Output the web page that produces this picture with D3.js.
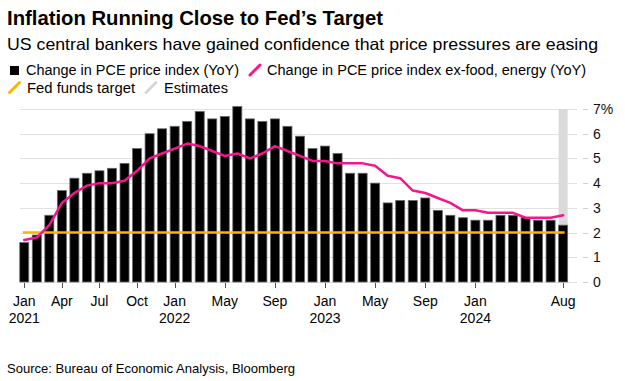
<!DOCTYPE html>
<html>
<head>
<meta charset="utf-8">
<script src="https://cdn.jsdelivr.net/npm/d3@7"></script>
<style>
  body { margin: 0; background: #fff; }
  svg { display: block; font-family: "Liberation Sans", Arial, Helvetica, sans-serif; }
</style>
</head>
<body>
<svg id="chart" width="625" height="381"></svg>
<script>
var months = [
  "2021-01","2021-02","2021-03","2021-04","2021-05","2021-06","2021-07","2021-08","2021-09","2021-10","2021-11","2021-12",
  "2022-01","2022-02","2022-03","2022-04","2022-05","2022-06","2022-07","2022-08","2022-09","2022-10","2022-11","2022-12",
  "2023-01","2023-02","2023-03","2023-04","2023-05","2023-06","2023-07","2023-08","2023-09","2023-10","2023-11","2023-12",
  "2024-01","2024-02","2024-03","2024-04","2024-05","2024-06","2024-07","2024-08"
];

// headline PCE, YoY %
var pce = [
  1.6, 1.9, 2.7, 3.7, 4.2, 4.4, 4.5, 4.6, 4.8, 5.4, 6.0, 6.2,
  6.3, 6.5, 6.9, 6.6, 6.7, 7.1, 6.6, 6.5, 6.6, 6.3, 5.9, 5.4,
  5.5, 5.2, 4.4, 4.4, 4.0, 3.2, 3.3, 3.3, 3.4, 2.9, 2.7, 2.6,
  2.5, 2.5, 2.7, 2.7, 2.6, 2.5, 2.5, 2.3
];

// core PCE (ex-food, energy), YoY %
var core = [
  1.7, 1.8, 2.3, 3.2, 3.6, 3.9, 4.0, 4.0, 4.1, 4.5, 5.0, 5.2,
  5.4, 5.6, 5.5, 5.3, 5.1, 5.2, 5.0, 5.2, 5.5, 5.3, 5.1, 4.9,
  4.9, 4.8, 4.8, 4.8, 4.7, 4.3, 4.2, 3.7, 3.6, 3.4, 3.2, 2.9,
  2.9, 2.8, 2.8, 2.8, 2.6, 2.6, 2.6, 2.7
];

var fedTarget = 2;
var estimateMonths = ["2024-08"];

var yTicks = [0, 1, 2, 3, 4, 5, 6, 7];
var tickMonths = ["2021-01","2021-04","2021-07","2021-10","2022-01","2022-05","2022-09","2023-01","2023-05","2023-09","2024-01","2024-08"];
var monthNames = ["Jan","Feb","Mar","Apr","May","Jun","Jul","Aug","Sep","Oct","Nov","Dec"];

var PINK = "#f5158c";
var YELLOW = "#ffb500";
var GRID = "#e2e2e2";

var svg = d3.select("#chart");

var x = d3.scaleBand()
  .domain(months)
  .range([18, 569.4])
  .paddingInner(0.28)
  .paddingOuter(0.14);

var y = d3.scaleLinear()
  .domain([0, 7])
  .range([282, 109]);

function cx(m) {
  return x(m) + x.bandwidth() / 2;
}

// titles
svg.append("text")
  .attr("x", 7).attr("y", 25)
  .attr("font-size", 21).attr("font-weight", "bold")
  .attr("textLength", 376).attr("lengthAdjust", "spacingAndGlyphs")
  .text("Inflation Running Close to Fed’s Target");

svg.append("text")
  .attr("x", 7).attr("y", 50)
  .attr("font-size", 16.5)
  .attr("textLength", 591).attr("lengthAdjust", "spacingAndGlyphs")
  .text("US central bankers have gained confidence that price pressures are easing");

// legend
var legend = svg.append("g").attr("font-size", 14);

legend.append("rect")
  .attr("x", 10).attr("y", 66).attr("width", 9).attr("height", 9)
  .attr("fill", "#000");
legend.append("text")
  .attr("x", 26).attr("y", 75)
  .attr("textLength", 213).attr("lengthAdjust", "spacingAndGlyphs")
  .text("Change in PCE price index (YoY)");

function slash(x0, yb, color) {
  legend.append("line")
    .attr("x1", x0).attr("y1", yb)
    .attr("x2", x0 + 10).attr("y2", yb - 10)
    .attr("stroke", color).attr("stroke-width", 3)
    .attr("stroke-linecap", "round");
}

slash(250, 75, PINK);
legend.append("text")
  .attr("x", 267).attr("y", 75)
  .attr("textLength", 319).attr("lengthAdjust", "spacingAndGlyphs")
  .text("Change in PCE price index ex-food, energy (YoY)");

slash(9.5, 92.5, YELLOW);
legend.append("text")
  .attr("x", 27).attr("y", 92.5)
  .attr("textLength", 108).attr("lengthAdjust", "spacingAndGlyphs")
  .text("Fed funds target");

slash(146, 92.5, "#d6d6d6");
legend.append("text")
  .attr("x", 164).attr("y", 92.5)
  .attr("textLength", 64).attr("lengthAdjust", "spacingAndGlyphs")
  .text("Estimates");

// gridlines and right axis
var grid = svg.append("g");
grid.selectAll("line.grid")
  .data(yTicks)
  .enter()
  .append("line")
  .attr("class", "grid")
  .attr("x1", 20).attr("x2", 577)
  .attr("y1", function(d) { return Math.round(y(d)) + 0.5; })
  .attr("y2", function(d) { return Math.round(y(d)) + 0.5; })
  .attr("stroke", GRID).attr("stroke-width", 1);

grid.selectAll("line.ytick")
  .data(yTicks)
  .enter()
  .append("line")
  .attr("class", "ytick")
  .attr("x1", 583).attr("x2", 588)
  .attr("y1", function(d) { return Math.round(y(d)) + 0.5; })
  .attr("y2", function(d) { return Math.round(y(d)) + 0.5; })
  .attr("stroke", "#cfcfcf");

grid.selectAll("text")
  .data(yTicks)
  .enter()
  .append("text")
  .attr("x", 593)
  .attr("y", function(d) { return y(d) + 5; })
  .attr("font-size", 14)
  .attr("fill", "#111")
  .text(function(d) { return d === 7 ? d + "%" : d; });

// estimates band
svg.selectAll("rect.est")
  .data(estimateMonths)
  .enter()
  .append("rect")
  .attr("class", "est")
  .attr("x", function(d) { return x(d); })
  .attr("width", x.bandwidth())
  .attr("y", y(7))
  .attr("height", y(0) - y(7))
  .attr("fill", "#dadada");

// bars
svg.selectAll("rect.bar")
  .data(pce)
  .enter()
  .append("rect")
  .attr("class", "bar")
  .attr("x", function(d, i) { return x(months[i]); })
  .attr("width", x.bandwidth())
  .attr("y", function(d) { return y(d); })
  .attr("height", function(d) { return y(0) - y(d); })
  .attr("fill", "#000")
  .attr("stroke", "#6a6a6a")
  .attr("stroke-width", 0.8);

// fed funds target
svg.append("line")
  .attr("x1", cx(months[0]) - 1.5)
  .attr("x2", cx(months[months.length - 1]) + 1.5)
  .attr("y1", y(fedTarget)).attr("y2", y(fedTarget))
  .attr("stroke", YELLOW).attr("stroke-width", 2.5);

// core line
var line = d3.line()
  .x(function(d, i) { return cx(months[i]); })
  .y(function(d) { return y(d); });

svg.append("path")
  .datum(core)
  .attr("d", line)
  .attr("fill", "none")
  .attr("stroke", PINK)
  .attr("stroke-width", 2.5)
  .attr("stroke-linejoin", "round")
  .attr("stroke-linecap", "round");

// bottom axis
var xAxis = svg.append("g");
xAxis.selectAll("line")
  .data(tickMonths)
  .enter()
  .append("line")
  .attr("x1", function(d) { return Math.round(cx(d)) + 0.5; })
  .attr("x2", function(d) { return Math.round(cx(d)) + 0.5; })
  .attr("y1", 283).attr("y2", 288)
  .attr("stroke", "#555");

xAxis.selectAll("text.mon")
  .data(tickMonths)
  .enter()
  .append("text")
  .attr("class", "mon")
  .attr("x", function(d) { return cx(d); })
  .attr("y", 306)
  .attr("text-anchor", "middle")
  .attr("font-size", 14)
  .text(function(d) { return monthNames[+d.slice(5) - 1]; });

xAxis.selectAll("text.yr")
  .data(tickMonths.filter(function(d) { return d.slice(5) === "01"; }))
  .enter()
  .append("text")
  .attr("class", "yr")
  .attr("x", function(d) { return cx(d); })
  .attr("y", 323)
  .attr("text-anchor", "middle")
  .attr("font-size", 14)
  .text(function(d) { return d.slice(0, 4); });

// source
svg.append("text")
  .attr("x", 7).attr("y", 373)
  .attr("font-size", 13)
  .attr("textLength", 288).attr("lengthAdjust", "spacingAndGlyphs")
  .text("Source: Bureau of Economic Analysis, Bloomberg");
</script>
</body>
</html>
